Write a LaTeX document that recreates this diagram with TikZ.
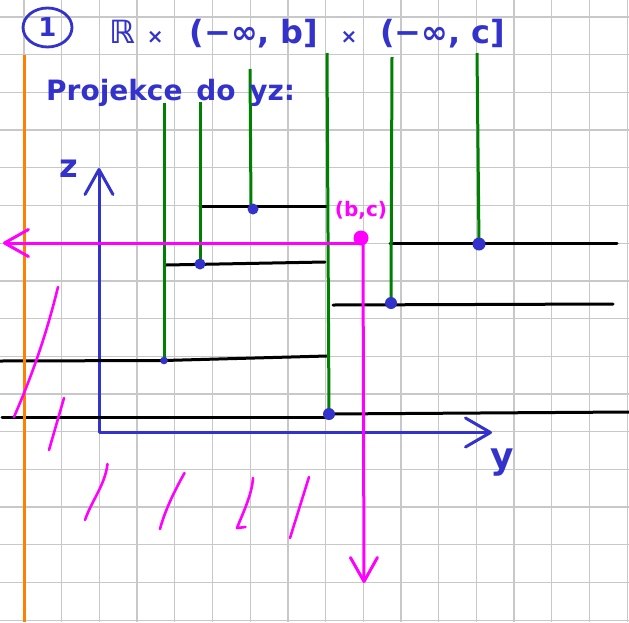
\documentclass[tikz,border=0pt]{standalone}
\usepackage{fontspec}
\newfontfamily\hand{DejaVu Sans}
\usetikzlibrary{arrows.meta,shapes.geometric}
\definecolor{penblue}{RGB}{51,51,204}
\definecolor{pengreen}{RGB}{0,128,0}
\definecolor{penmag}{RGB}{255,0,255}
\definecolor{penorange}{RGB}{255,128,0}
\definecolor{gridgray}{RGB}{200,200,200}
\begin{document}
\begin{tikzpicture}[x=1pt,y=-1pt,
  pen/.style={line width=3pt,line cap=round,line join=round},
  thinpen/.style={line width=2.6pt,line cap=round,line join=round},
  gridline/.style={gridgray,line width=1.3pt},
  axisarrows/.style={{Straight Barb[length=25pt,width=28pt,round]}-{Straight Barb[length=25pt,width=29pt,round]}},
  magarrow/.style={-{Straight Barb[length=24pt,width=27pt,round]}},
  handtext/.style={inner sep=0pt,text=penblue,font=\hand}]
\useasboundingbox (0,0) rectangle (629,622);
\fill[white] (0,0) rectangle (629,622);
% grid
\foreach \k in {0,...,16} \draw[gridline] ({24+37.7*\k},0) -- ({24+37.7*\k},622);
\foreach \j in {0,...,16} \draw[gridline] (0,{17+37.7*\j}) -- (629,{17+37.7*\j});
% coordinates
\coordinate (O) at (99,432.5);
\coordinate (ztip) at (99,168);
\coordinate (ytip) at (492,432.5);
\coordinate (d1) at (164,360.5);
\coordinate (d2) at (200,264);
\coordinate (d3) at (253,209);
\coordinate (d4) at (329,414);
\coordinate (d5) at (391,303);
\coordinate (d6) at (479,244);
\coordinate (g1) at (164,103);
\coordinate (g2) at (200,102);
\coordinate (g3) at (250,69);
\coordinate (g4) at (327,53);
\coordinate (g5) at (392,57);
\coordinate (g6) at (477,53);
\coordinate (bc) at (361,238);
% axes
\draw[pen,penblue,axisarrows] (ztip) -- (O) -- (ytip);
% black segments
\coordinate (a1) at (0,361); \coordinate (a2) at (327,356);
\draw[pen] (a1) -- (d1) -- (a2);
\coordinate (b1) at (2,417); \coordinate (b2) at (329,417); \coordinate (b3) at (629,412);
\draw[pen] (b1) -- (b2);
\draw[pen] (d4) -- (b3);
\coordinate (c1) at (166,265); \coordinate (c2) at (325,262);
\draw[pen] (c1) -- (c2);
\coordinate (e1) at (200,206); \coordinate (e2) at (327,206);
\draw[pen] (e1) -- (e2);
\coordinate (f1) at (390,243); \coordinate (f2) at (617,243);
\draw[pen] (f1) -- (f2);
\coordinate (h1) at (333,305); \coordinate (h2) at (613,304);
\draw[pen] (h1) -- (h2);
% green
\draw[pen,pengreen,line cap=butt] (g1) -- (d1);
\draw[pen,pengreen,line cap=butt] (g2) -- (d2);
\draw[pen,pengreen,line cap=butt] (g3) -- (251,207);
\draw[pen,pengreen,line cap=butt] (g4) -- (d4);
\draw[pen,pengreen,line cap=butt] (g5) -- (d5);
\draw[pen,pengreen,line cap=butt] (g6) -- (d6);
% dots
\fill[penblue] (d1) circle[radius=3.8pt];
\fill[penblue] (d2) circle[radius=5.5pt];
\fill[penblue] (d3) circle[radius=5.5pt];
\fill[penblue] (d4) circle[radius=6pt];
\fill[penblue] (d5) circle[radius=6pt];
\fill[penblue] (d6) circle[radius=6.5pt];
% orange
\coordinate (o1) at (24,55); \coordinate (o2) at (24,622);
\draw[line width=3pt,penorange] (o1) -- (o2);
% magenta
\coordinate (m0) at (363,243);
\coordinate (mleft) at (3,243);
\coordinate (mdown) at (364,583);
\draw[pen,penmag,magarrow] (m0) -- (mleft);
\draw[pen,penmag,magarrow] (m0) -- (mdown);
\fill[penmag] (bc) circle[radius=7.5pt];
\draw[thinpen,penmag] (58,287) .. controls (45,340) and (30,380) .. (14,417);
\draw[thinpen,penmag] (64,398) -- (49,450);
\draw[thinpen,penmag] (107.5,464) .. controls (105,485) and (92,500) .. (85,520);
\draw[thinpen,penmag] (184.5,473) .. controls (175,490) and (165,510) .. (160,529);
\draw[thinpen,penmag] (253,478) .. controls (252,495) and (242,515) .. (237,528) -- (245.5,527);
\draw[thinpen,penmag] (309,477) -- (290,538);
% texts
\node[draw=penblue,line width=2.8pt,ellipse,minimum width=49pt,minimum height=39pt,inner sep=0pt,text=penblue,font=\hand\bfseries\fontsize{26}{30}\selectfont] (one) at (47.5,27.5) {1};
\node[handtext,anchor=base west,font=\hand\bfseries\fontsize{32}{40}\selectfont] (title) at (109,43)
  {ℝ\hspace{12pt}{\fontsize{20}{22}\selectfont ×}\hspace{26pt}(−∞, b]\hspace{22pt}{\fontsize{20}{22}\selectfont ×}\hspace{23pt}(−∞, c]};
\node[handtext,anchor=base west,font=\hand\bfseries\fontsize{28}{40}\selectfont] (proj) at (46,100) {Projekce\hspace{4pt} do\hspace{4pt} yz:};
\node[handtext,font=\hand\bfseries\fontsize{32}{40}\selectfont] (zlab) at (69,169) {z};
\node[handtext,font=\hand\bfseries\fontsize{36}{40}\selectfont] (ylab) at (502,463) {y};
\node[inner sep=0pt,text=penmag,font=\hand\bfseries\fontsize{20}{22}\selectfont] (bclab) at (361,210) {(b,c)};
\end{tikzpicture}
\end{document}
